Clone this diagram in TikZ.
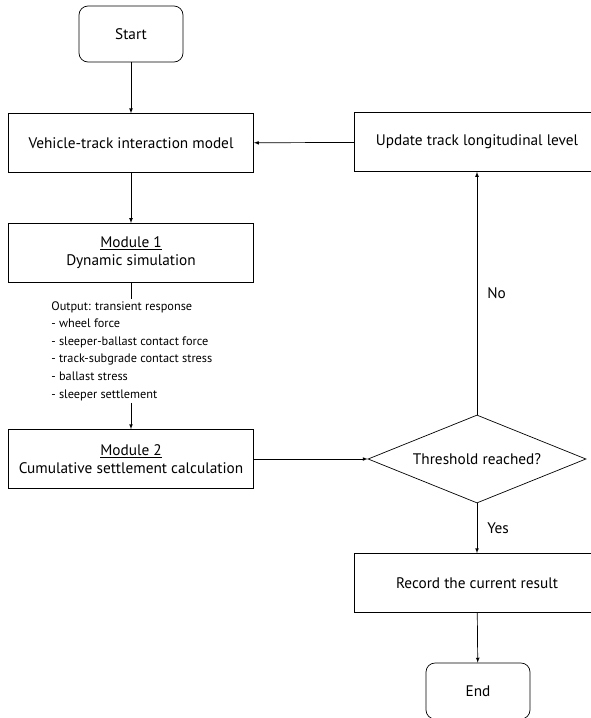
\documentclass[tikz,border=0pt]{standalone}
\usepackage{fontspec}
\setmainfont{PT Sans}
\usepackage{tikz}
\usetikzlibrary{positioning}
\usetikzlibrary{arrows}
\usetikzlibrary{shapes.geometric}

\begin{document}
\begin{tikzpicture}[x=1pt, y=-1pt, >=latex, line width=0.7pt,
	node distance=50pt,
	font=\fontsize{15.3pt}{18pt}\selectfont,
	box node/.style={draw, minimum width=245pt, minimum height=59pt, align=center},
	end node/.style={draw, rounded corners=9pt, minimum width=104pt, minimum height=56pt},
	test node/.style={draw, diamond, aspect=2.48, inner sep=0pt, minimum width=218pt, minimum height=88pt}]
	\useasboundingbox (0,0) rectangle (590,718);
	\node[end node] (start) at (131,34) {Start};
	\node[box node] (model) [below=51pt of start] {Vehicle-track interaction model};
	\node[box node] (mod1) [below=50pt of model] {\underline{Module 1}\\Dynamic simulation};
	\node[align=left, inner sep=2pt, anchor=north west, font=\fontsize{12.3pt}{17.6pt}\selectfont] (out) at (49,299) {Output: transient response\\- wheel force\\- sleeper-ballast contact force\\- track-subgrade contact stress\\- ballast stress\\- sleeper settlement};
	\node[box node] (mod2) at (131,459) {\underline{Module 2}\\Cumulative settlement calculation};
	\node[test node] (test) at (477,459) {Threshold reached?};
	\node[box node] (update) at (477,142) {Update track longitudinal level};
	\node[box node] (record) at (477,583) {Record the current result};
	\node[end node] (stop) at (478,691) {End};
	\draw[->] (start) -- (model);
	\draw[->] (model) -- (mod1);
	\draw (mod1) -- (mod1.south |- out.north);
	\draw[->] (mod1.south |- out.south) -- (mod2);
	\draw[->] (mod2) -- (test);
	\draw[->] (test) -- node[right, inner sep=10pt] {No} (update);
	\draw[->] (update) -- (model);
	\draw[->] (test) -- node[right, inner sep=10pt] {Yes} (record);
	\draw[->] (record) -- (stop);
\end{tikzpicture}
\end{document}
